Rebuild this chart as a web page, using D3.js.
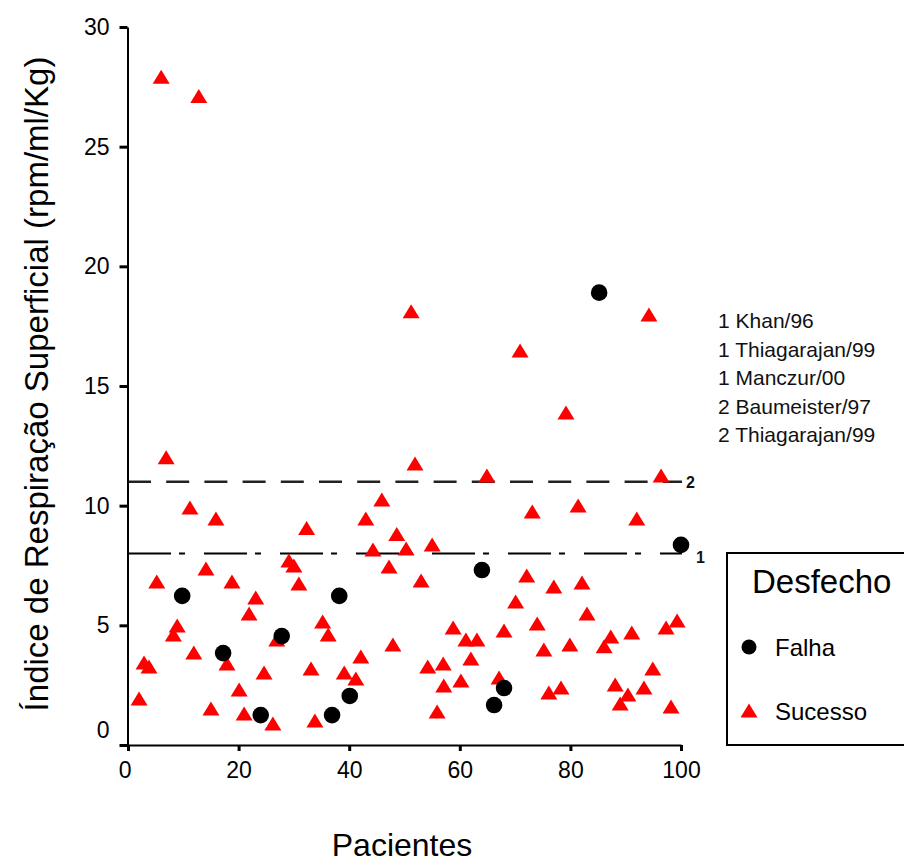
<!DOCTYPE html>
<html>
<head>
<meta charset="utf-8">
<script src="https://cdn.jsdelivr.net/npm/d3@7"></script>
<style>
  body { margin: 0; background: #fff; }
  svg text { font-family: "Liberation Sans", Arial, sans-serif; }
</style>
</head>
<body>
<svg id="chart" width="904" height="864"></svg>
<script>
// ---- data ----
const falhaX = [9.8, 17.2, 24.0, 27.8, 36.9, 38.2, 40.1, 64.0, 66.2, 68.0, 85.2, 100];
const falhaY = [6.23, 3.84, 1.25, 4.55, 1.25, 6.23, 2.05, 7.31, 1.67, 2.38, 18.9, 8.36];

const sucessoX = [2.0, 2.9, 3.8, 5.2, 6.0, 6.9, 8.2, 8.9, 11.2, 11.9, 12.8, 14.1, 15.0, 15.9, 17.9, 18.8,
  20.1, 21.0, 21.9, 23.1, 24.6, 26.2, 26.9, 29.1, 30.0, 30.9, 32.3, 33.1, 33.8, 35.2, 36.2, 39.1,
  41.2, 42.1, 43.0, 44.3, 45.9, 47.2, 47.9, 48.6, 50.3, 51.2, 51.9, 53.0, 54.2, 55.0, 55.9, 57.0,
  57.1, 58.8, 60.2, 61.1, 62.0, 63.1, 64.9, 67.1, 68.0, 70.1, 70.9, 72.1, 73.1, 74.0, 75.2, 76.1,
  77.0, 78.3, 79.2, 79.9, 81.4, 82.1, 83.0, 86.1, 87.3, 88.1, 89.0, 90.4, 91.1, 92.0, 93.3, 94.2,
  94.9, 96.4, 97.3, 98.2, 99.3];
const sucessoY = [1.92, 3.43, 3.26, 6.81, 27.9, 12.0, 4.60, 4.97, 9.9, 3.84, 27.1, 7.35, 1.50, 9.44, 3.38, 6.81,
  2.30, 1.30, 5.47, 6.14, 3.01, 0.88, 4.39, 7.69, 7.48, 6.73, 9.05, 3.18, 1.00, 5.14, 4.60, 3.01,
  2.76, 3.68, 9.44, 8.15, 10.24, 7.44, 4.18, 8.8, 8.19, 18.1, 11.74, 6.85, 3.26, 8.36, 1.38, 3.38,
  2.47, 4.89, 2.67, 4.39, 3.59, 4.39, 11.24, 2.80, 4.76, 5.98, 16.46, 7.06, 9.74, 5.06, 3.97, 2.17,
  6.60, 2.38, 13.87, 4.18, 9.99, 6.77, 5.47, 4.10, 4.51, 2.51, 1.71, 2.09, 4.68, 9.44, 2.38, 17.97,
  3.18, 11.24, 4.89, 1.59, 5.18];

const xTicks = [0, 20, 40, 60, 80, 100];
const yTicks = [0, 5, 10, 15, 20, 25, 30];
const cutoffValues = [11, 8];
const cutoffLabels = ["2", "1"];
const studies = ["1 Khan/96", "1 Thiagarajan/99", "1 Manczur/00", "2 Baumeister/97", "2 Thiagarajan/99"];
const legendTitle = "Desfecho";
const legendLabels = ["Falha", "Sucesso"];
const xTitle = "Pacientes";
const yTitle = "Índice de Respiração Superficial (rpm/ml/Kg)";

// ---- chart ----
const svg = d3.select("#chart");
const x = d3.scaleLinear().domain([0, 100]).range([128, 681]);
const y = d3.scaleLinear().domain([0, 30]).range([745, 27]);

const triPath = "M0,-7.5L8.5,6.5L-8.5,6.5Z";

// cutoff lines
svg.append("line")
  .attr("x1", x(0)).attr("x2", x(100) + 1)
  .attr("y1", y(cutoffValues[0])).attr("y2", y(cutoffValues[0]))
  .attr("stroke", "#222").attr("stroke-width", 2.5)
  .attr("stroke-dasharray", "23,15.2");
svg.append("line")
  .attr("x1", x(0)).attr("x2", x(100) + 1)
  .attr("y1", y(cutoffValues[1])).attr("y2", y(cutoffValues[1]))
  .attr("stroke", "#000").attr("stroke-width", 2)
  .attr("stroke-dasharray", "43,8,6,19");

svg.append("text").attr("x", x(100) + 5).attr("y", y(cutoffValues[0]) + 6)
  .attr("font-size", 16).attr("font-weight", "bold").attr("fill", "#111").text(cutoffLabels[0]);
svg.append("text").attr("x", x(100) + 15).attr("y", y(cutoffValues[1]) + 9)
  .attr("font-size", 16).attr("font-weight", "bold").attr("fill", "#111").text(cutoffLabels[1]);

// axes
const yAxis = d3.axisLeft(y).tickValues(yTicks).tickSize(8).tickSizeOuter(0).tickPadding(10);
const gy = svg.append("g").attr("transform", "translate(127.5,0)").call(yAxis);
gy.select(".domain").attr("stroke-width", 2).attr("stroke", "#000");
gy.selectAll(".tick line").attr("stroke-width", 3).attr("stroke", "#000");
gy.selectAll(".tick text").attr("font-size", 23).attr("fill", "#000")
  .attr("font-family", "Liberation Sans, Arial, sans-serif")
  .attr("dy", d => d === 0 ? "-0.32em" : "0.32em");

const xAxis = d3.axisBottom(x).tickValues(xTicks).tickSize(6).tickSizeOuter(0).tickPadding(11);
const gx = svg.append("g").attr("transform", "translate(0,745)").call(xAxis);
gx.select(".domain").attr("stroke-width", 2).attr("stroke", "#000");
gx.selectAll(".tick line").attr("stroke-width", 3).attr("stroke", "#000");
gx.selectAll(".tick text").attr("font-size", 23).attr("fill", "#000")
  .attr("font-family", "Liberation Sans, Arial, sans-serif")
  .attr("dx", d => d === 0 ? "-0.15em" : 0);

// points
svg.append("g").selectAll("path")
  .data(sucessoX.map((v, i) => [v, sucessoY[i]]))
  .join("path")
  .attr("d", triPath)
  .attr("transform", d => `translate(${x(d[0])},${y(d[1])})`)
  .attr("fill", "#ff0000");

svg.append("g").selectAll("circle")
  .data(falhaX.map((v, i) => [v, falhaY[i]]))
  .join("circle")
  .attr("cx", d => x(d[0])).attr("cy", d => y(d[1]))
  .attr("r", 8.3).attr("fill", "#000");

// axis titles
svg.append("text").attr("x", 402).attr("y", 856).attr("text-anchor", "middle")
  .attr("font-size", 32).attr("fill", "#000").text(xTitle);
svg.append("text").attr("transform", "translate(48,384) rotate(-90)").attr("text-anchor", "middle")
  .attr("font-size", 33).attr("fill", "#000").text(yTitle);

// study annotations
svg.append("g").selectAll("text").data(studies).join("text")
  .attr("x", 718).attr("y", (d, i) => 328 + i * 28.5)
  .attr("font-size", 21).attr("fill", "#111").text(d => d);

// legend
svg.append("rect").attr("x", 727).attr("y", 553).attr("width", 190).attr("height", 192)
  .attr("fill", "none").attr("stroke", "#000").attr("stroke-width", 2);
svg.append("text").attr("x", 752).attr("y", 593).attr("font-size", 33).attr("fill", "#000").text(legendTitle);
svg.append("circle").attr("cx", 749).attr("cy", 647).attr("r", 7.5).attr("fill", "#000");
svg.append("text").attr("x", 775).attr("y", 656).attr("font-size", 24).attr("fill", "#000").text(legendLabels[0]);
svg.append("path").attr("d", triPath).attr("transform", "translate(749,711)").attr("fill", "#ff0000");
svg.append("text").attr("x", 775).attr("y", 720).attr("font-size", 24).attr("fill", "#000").text(legendLabels[1]);
</script>
</body>
</html>
